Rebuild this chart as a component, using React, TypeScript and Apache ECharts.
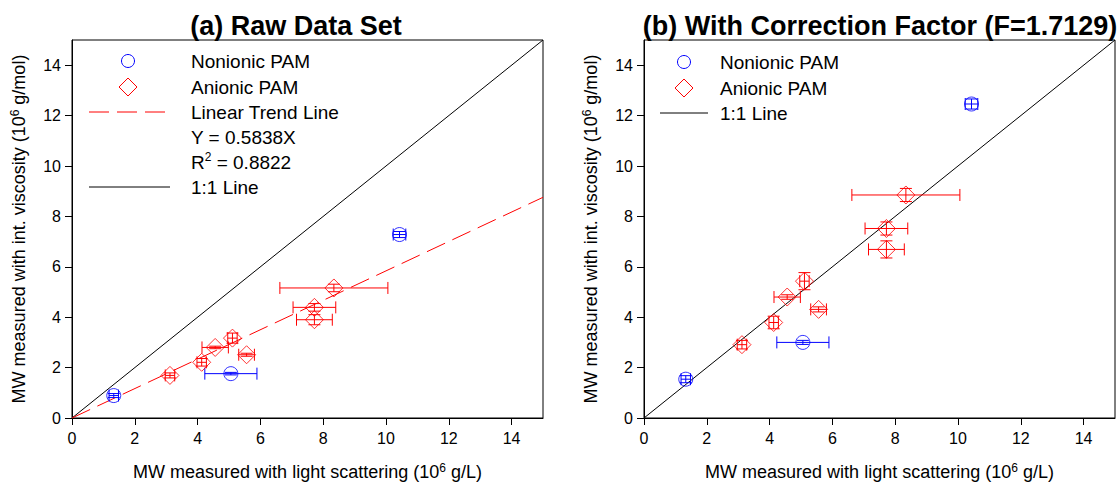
import React, { useEffect, useRef } from 'react';
import * as echarts from 'echarts';

const FONT = '"Liberation Sans", Arial, sans-serif';
const BLUE = '#0000ff';
const RED = '#ff0000';

const tickValues = [0, 2, 4, 6, 8, 10, 12, 14];

// light scattering MW (shared by both panels)
const nonionicX = [1.33, 5.06, 10.43];
const nonionicXErr = [0.15, 0.83, 0.2];
const anionicX = [3.12, 4.13, 4.56, 5.11, 5.56, 7.72, 7.72, 8.34];
const anionicXErr = [0.15, 0.15, 0.42, 0.15, 0.25, 0.68, 0.57, 1.72];

// (a) raw intrinsic-viscosity MW
const nonionicRawY = [0.89, 1.76, 7.28];
const nonionicRawYErr = [0.08, 0.05, 0.12];
const anionicRawY = [1.69, 2.21, 2.8, 3.17, 2.51, 4.39, 3.9, 5.16];
const anionicRawYErr = [0.1, 0.15, 0.05, 0.2, 0.06, 0.15, 0.2, 0.15];

// (b) corrected intrinsic-viscosity MW
const nonionicCorrY = [1.54, 3.0, 12.46];
const nonionicCorrYErr = [0.14, 0.08, 0.2];
const anionicCorrY = [2.91, 3.79, 4.8, 5.43, 4.31, 7.52, 6.69, 8.85];
const anionicCorrYErr = [0.17, 0.25, 0.09, 0.34, 0.1, 0.26, 0.34, 0.26];

// reference lines
const oneToOneX = [0, 15];
const oneToOneY = [0, 15];
const trendX = [0, 15];
const trendY = [0, 8.757];

const zip = (a: number[], b: number[]) => a.map((v, i) => [v, b[i]]);
const zip4 = (a: number[], b: number[], c: number[], d: number[]) => a.map((v, i) => [v, b[i], c[i], d[i]]);

const errRender = (color: string) => (params: any, api: any) => {
  const x = api.value(0), y = api.value(1), xe = api.value(2), ye = api.value(3);
  const l = api.coord([x - xe, y]);
  const r = api.coord([x + xe, y]);
  const b = api.coord([x, y - ye]);
  const t = api.coord([x, y + ye]);
  const c = 6;
  const style = { stroke: color, lineWidth: 1, fill: 'none' };
  const ln = (x1: number, y1: number, x2: number, y2: number) => ({ type: 'line', shape: { x1, y1, x2, y2 }, style });
  return {
    type: 'group',
    children: [
      ln(l[0], l[1], r[0], r[1]),
      ln(l[0], l[1] - c, l[0], l[1] + c),
      ln(r[0], r[1] - c, r[0], r[1] + c),
      ln(b[0], b[1], t[0], t[1]),
      ln(b[0] - c, b[1], b[0] + c, b[1]),
      ln(t[0] - c, t[1], t[0] + c, t[1]),
    ],
  };
};

const makeXAxis = (gridIndex: number) => ({
  gridIndex,
  type: 'value',
  min: 0,
  max: 15,
  name: 'MW measured with light scattering (10{sup|6} g/L)',
  nameLocation: 'middle',
  nameGap: 44,
  nameTextStyle: {
    fontFamily: FONT, fontSize: 18, color: '#000',
    rich: { sup: { fontFamily: FONT, fontSize: 12, color: '#000', padding: [0, 0, 8, 0] } },
  },
  axisLine: { show: true, lineStyle: { color: '#000', width: 1 } },
  axisTick: { show: true, inside: false, length: 7, lineStyle: { color: '#000' }, customValues: tickValues },
  axisLabel: { color: '#000', fontFamily: FONT, fontSize: 16, margin: 12, customValues: tickValues },
  splitLine: { show: false },
});

const makeYAxis = (gridIndex: number) => ({
  gridIndex,
  type: 'value',
  min: 0,
  max: 15,
  name: 'MW measured with int. viscosity (10{sup|6} g/mol)',
  nameLocation: 'middle',
  nameRotate: 90,
  nameGap: 43,
  nameTextStyle: {
    fontFamily: FONT, fontSize: 18, color: '#000',
    rich: { sup: { fontFamily: FONT, fontSize: 12, color: '#000', padding: [0, 0, 8, 0] } },
  },
  axisLine: { show: true, lineStyle: { color: '#000', width: 1 } },
  axisTick: { show: true, inside: false, length: 7, lineStyle: { color: '#000' }, customValues: tickValues },
  axisLabel: { color: '#000', fontFamily: FONT, fontSize: 16, margin: 11, customValues: tickValues },
  splitLine: { show: false },
});

const circleMark = (cx: number, cy: number) => ({
  type: 'circle', shape: { cx, cy, r: 6.5 }, style: { fill: 'none', stroke: BLUE, lineWidth: 1 },
});
const diamondMark = (cx: number, cy: number) => ({
  type: 'polygon',
  shape: { points: [[cx, cy - 9], [cx + 9, cy], [cx, cy + 9], [cx - 9, cy]] },
  style: { fill: 'none', stroke: RED, lineWidth: 1 },
});
const legText = (x: number, y: number, text: string) => ({
  type: 'text',
  x, y,
  style: {
    text, fill: '#000', fontFamily: FONT, fontSize: 19, verticalAlign: 'middle', align: 'left',
    rich: { sup: { fontFamily: FONT, fontSize: 12, fill: '#000', padding: [0, 0, 10, 0] }, n: { fontFamily: FONT, fontSize: 19, fill: '#000' } },
  },
});

export default function App() {
  const ref = useRef<HTMLDivElement>(null);
  useEffect(() => {
    if (!ref.current) return;
    const chart = echarts.init(ref.current, undefined, { renderer: 'svg' });
    const panelSeries = (idx: number, nY: number[], nYe: number[], aY: number[], aYe: number[], withTrend: boolean) => {
      const s: any[] = [
        {
          type: 'line', xAxisIndex: idx, yAxisIndex: idx, data: zip(oneToOneX, oneToOneY),
          symbol: 'none', lineStyle: { color: '#000', width: 1 }, z: 1, silent: true,
        },
      ];
      if (withTrend) {
        s.push({
          type: 'line', xAxisIndex: idx, yAxisIndex: idx, data: zip(trendX, trendY),
          symbol: 'none', lineStyle: { color: RED, width: 1, type: [20, 8] }, z: 1, silent: true,
        });
      }
      s.push(
        {
          type: 'custom', xAxisIndex: idx, yAxisIndex: idx, renderItem: errRender(BLUE),
          data: zip4(nonionicX, nY, nonionicXErr, nYe), encode: { x: 0, y: 1 }, z: 2, silent: true,
        },
        {
          type: 'custom', xAxisIndex: idx, yAxisIndex: idx, renderItem: errRender(RED),
          data: zip4(anionicX, aY, anionicXErr, aYe), encode: { x: 0, y: 1 }, z: 2, silent: true,
        },
        {
          type: 'scatter', xAxisIndex: idx, yAxisIndex: idx, data: zip(nonionicX, nY),
          symbol: 'circle', symbolSize: 14,
          itemStyle: { color: 'rgba(0,0,0,0)', borderColor: BLUE, borderWidth: 1 }, z: 3,
        },
        {
          type: 'scatter', xAxisIndex: idx, yAxisIndex: idx, data: zip(anionicX, aY),
          symbol: 'diamond', symbolSize: 18,
          itemStyle: { color: 'rgba(0,0,0,0)', borderColor: RED, borderWidth: 1 }, z: 3,
        },
      );
      return s;
    };

    chart.setOption({
      animation: false,
      backgroundColor: '#fff',
      grid: [
        { left: 72, top: 40, width: 471, height: 379, show: true, borderColor: '#000', borderWidth: 1, backgroundColor: 'transparent' },
        { left: 644, top: 40, width: 471, height: 379, show: true, borderColor: '#000', borderWidth: 1, backgroundColor: 'transparent' },
      ],
      xAxis: [makeXAxis(0), makeXAxis(1)],
      yAxis: [makeYAxis(0), makeYAxis(1)],
      series: [
        ...panelSeries(0, nonionicRawY, nonionicRawYErr, anionicRawY, anionicRawYErr, true),
        ...panelSeries(1, nonionicCorrY, nonionicCorrYErr, anionicCorrY, anionicCorrYErr, false),
      ],
      graphic: [
        { type: 'text', x: 296, y: 26, style: { text: '(a) Raw Data Set', fill: '#000', fontFamily: FONT, fontSize: 27, fontWeight: 'bold', align: 'center', verticalAlign: 'middle' } },
        { type: 'text', x: 880, y: 26, style: { text: '(b) With Correction Factor (F=1.7129)', fill: '#000', fontFamily: FONT, fontSize: 27, fontWeight: 'bold', align: 'center', verticalAlign: 'middle' } },
        // legend (a)
        circleMark(128, 61),
        legText(191, 61, 'Nonionic PAM'),
        diamondMark(128, 87),
        legText(191, 87, 'Anionic PAM'),
        { type: 'line', shape: { x1: 89, y1: 112, x2: 165, y2: 112 }, style: { stroke: RED, lineWidth: 1, lineDash: [20, 8] } },
        legText(191, 112, 'Linear Trend Line'),
        legText(191, 137, 'Y = 0.5838X'),
        legText(191, 162, '{n|R}{sup|2}{n| = 0.8822}'),
        { type: 'line', shape: { x1: 89, y1: 187, x2: 170, y2: 187 }, style: { stroke: '#000', lineWidth: 1 } },
        legText(191, 187, '1:1 Line'),
        // legend (b)
        circleMark(684, 62),
        legText(720, 62, 'Nonionic PAM'),
        diamondMark(684, 88),
        legText(720, 88, 'Anionic PAM'),
        { type: 'line', shape: { x1: 660, y1: 113, x2: 708, y2: 113 }, style: { stroke: '#000', lineWidth: 1 } },
        legText(720, 113, '1:1 Line'),
      ],
    });
    return () => chart.dispose();
  }, []);
  return <div ref={ref} style={{ position: 'fixed', left: 0, top: 0, width: 1120, height: 486 }} />;
}
